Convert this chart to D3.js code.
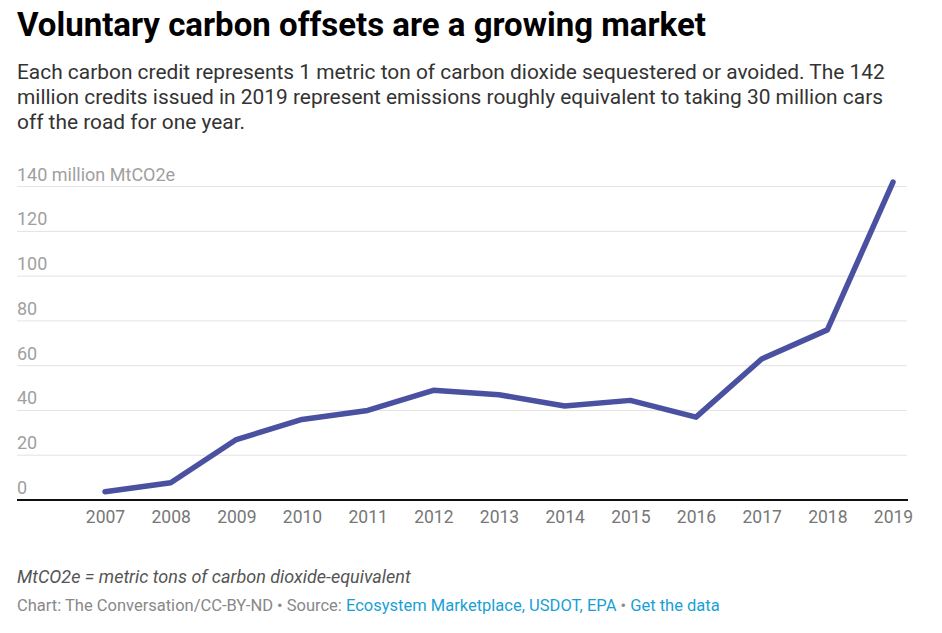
<!DOCTYPE html>
<html>
<head>
<meta charset="utf-8">
<script src="https://cdn.jsdelivr.net/npm/d3@7"></script>
<style>
  body { margin: 0; background: #fff; font-family: Roboto, "Noto Sans", sans-serif; }
  svg { display: block; }
</style>
</head>
<body>
<svg id="chart" width="942" height="633"></svg>
<script>
const years = ["2007","2008","2009","2010","2011","2012","2013","2014","2015","2016","2017","2018","2019"];
const credits = [3.7, 7.7, 27, 36, 40, 49, 47, 42, 44.5, 37, 63, 76, 142];
const yTicks = [0, 20, 40, 60, 80, 100, 120, 140];
const yTickLabels = ["0","20","40","60","80","100","120","140 million MtCO2e"];
const titleText = "Voluntary carbon offsets are a growing market";
const subtitleLines = [
  "Each carbon credit represents 1 metric ton of carbon dioxide sequestered or avoided. The 142",
  "million credits issued in 2019 represent emissions roughly equivalent to taking 30 million cars",
  "off the road for one year."
];
const noteText = "MtCO2e = metric tons of carbon dioxide-equivalent";

const svg = d3.select("#chart");
const left = 17, right = 908;

svg.append("text").attr("x", left).attr("y", 36)
  .attr("font-size", 33).attr("font-weight", 700).attr("fill", "#000")
  .attr("font-family", "Roboto").text(titleText);

svg.selectAll("text.sub").data(subtitleLines).join("text")
  .attr("class", "sub").attr("x", left).attr("y", (d, i) => 79 + i * 25)
  .attr("font-size", 20.9).attr("fill", "#333").text(d => d);

const x = d3.scalePoint().domain(years).range([105, 893]);
const y = d3.scaleLinear().domain([0, 140]).range([500, 186.6]);

// gridlines
svg.append("g").selectAll("line").data(yTicks.filter(d => d > 0)).join("line")
  .attr("x1", left).attr("x2", right - 1)
  .attr("y1", d => y(d)).attr("y2", d => y(d))
  .attr("stroke", "#e3e3e3").attr("stroke-width", 1);

// y labels
svg.append("g").selectAll("text").data(yTicks).join("text")
  .attr("x", left).attr("y", d => y(d) - 6)
  .attr("font-size", 18).attr("fill", "#a0a0a0")
  .text((d, i) => yTickLabels[i]);

// baseline
svg.append("line").attr("x1", left).attr("x2", right)
  .attr("y1", y(0)).attr("y2", y(0)).attr("stroke", "#111").attr("stroke-width", 2);

// x axis
const xAxis = svg.append("g").attr("transform", `translate(0,${y(0)})`)
  .call(d3.axisBottom(x).tickSize(0).tickPadding(11));
xAxis.select(".domain").remove();
xAxis.selectAll("text").attr("font-size", 17.5).attr("fill", "#777")
  .attr("font-family", "Roboto");

// line
const line = d3.line().x((d, i) => x(years[i])).y(d => y(d));
svg.append("path").datum(credits).attr("d", line)
  .attr("fill", "none").attr("stroke", "#4a51a0").attr("stroke-width", 5.5)
  .attr("stroke-linejoin", "round").attr("stroke-linecap", "round");

// notes
svg.append("text").attr("x", left).attr("y", 583)
  .attr("font-size", 18).attr("font-style", "italic").attr("fill", "#555")
  .text(noteText);

const src = svg.append("text").attr("x", left).attr("y", 611)
  .attr("font-size", 16.5).attr("fill", "#888");
src.append("tspan").text("Chart: The Conversation/CC-BY-ND • Source: ");
src.append("tspan").attr("fill", "#1a9fd4").text("Ecosystem Marketplace, USDOT, EPA");
src.append("tspan").text(" • ");
src.append("tspan").attr("fill", "#1a9fd4").text("Get the data");
</script>
</body>
</html>
